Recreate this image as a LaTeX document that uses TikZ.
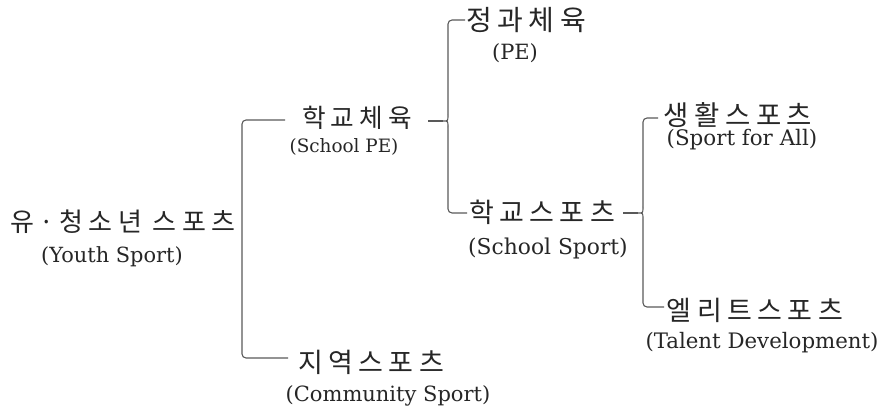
\documentclass[tikz,border=0pt]{standalone}
\usepackage{fontspec}
\newfontfamily\kofont[LetterSpace=20]{Noto Sans CJK KR}
\newfontfamily\enfont{DejaVu Serif}
\newcommand\krsize[1]{\fontsize{#1}{#1}\selectfont}
\begin{document}
\begin{tikzpicture}[x=1pt,y=-1pt,
  kr/.style={inner sep=0pt,font=\kofont\krsize{27},text=black!85},
  en/.style={inner sep=0pt,font=\enfont\krsize{21},text=black!85},
  br/.style={draw=black!65,line width=1.1pt},
  rc/.style={rounded corners=4pt}]
\useasboundingbox (0,0) rectangle (883,417);
% nodes
\node[kr,font=\kofont\krsize{26}] (kyouth) at (123,222) {유·청소년 스포츠};
\node[en,font=\enfont\krsize{20.9}] (eyouth) at (112,257) {(Youth Sport)};
\node[kr,font=\kofont\krsize{25.7}] (kspe) at (357,118) {학교체육};
\node[en,font=\enfont\krsize{18.4}] (espe) at (344,147) {(School PE)};
\node[kr] (kcom) at (371,362) {지역스포츠};
\node[en] (ecom) at (388,396) {(Community Sport)};
\node[kr,font=\kofont\krsize{28}] (kpe) at (526,20) {정과체육};
\node[en] (epe) at (515,53) {(PE)};
\node[kr] (kss) at (542,212) {학교스포츠};
\node[en,font=\enfont\krsize{21.8}] (ess) at (548,248) {(School Sport)};
\node[kr,font=\kofont\krsize{27.5}] (ksfa) at (738,115) {생활스포츠};
\node[en,font=\enfont\krsize{21.4}] (esfa) at (742,140) {(Sport for All)};
\node[kr] (kel) at (755,310) {엘리트스포츠};
\node[en,font=\enfont\krsize{21.3}] (eel) at (762,343) {(Talent Development)};
% bracket 1
\coordinate (b1x) at (242,0);
\coordinate (b1t) at (285,120);
\coordinate (b1b) at (288,358);
\draw[br,rc] (b1t) -- (b1t -| b1x) -- (b1b -| b1x) -- (b1b);
% bracket 2
\coordinate (b2x) at (448,0);
\coordinate (b2t) at (465,20);
\coordinate (b2b) at (467,213);
\coordinate (b2c) at (443,121);
\coordinate (b2s) at (428,121);
\draw[br,rc] (b2t) -- (b2t -| b2x) -- ([yshift=6pt]b2c -| b2x);
\draw[br] ([yshift=6pt]b2c -| b2x) .. controls (b2c -| b2x) .. (b2c)
  .. controls (b2c -| b2x) .. ([yshift=-6pt]b2c -| b2x);
\draw[br,rc] ([yshift=-6pt]b2c -| b2x) -- (b2b -| b2x) -- (b2b);
\draw[br] (b2s) -- (b2c);
% bracket 3
\coordinate (b3x) at (643,0);
\coordinate (b3t) at (658,118);
\coordinate (b3b) at (664,307);
\coordinate (b3c) at (638,213);
\coordinate (b3s) at (623,213);
\draw[br,rc] (b3t) -- (b3t -| b3x) -- ([yshift=6pt]b3c -| b3x);
\draw[br] ([yshift=6pt]b3c -| b3x) .. controls (b3c -| b3x) .. (b3c)
  .. controls (b3c -| b3x) .. ([yshift=-6pt]b3c -| b3x);
\draw[br,rc] ([yshift=-6pt]b3c -| b3x) -- (b3b -| b3x) -- (b3b);
\draw[br] (b3s) -- (b3c);
\end{tikzpicture}
\end{document}
